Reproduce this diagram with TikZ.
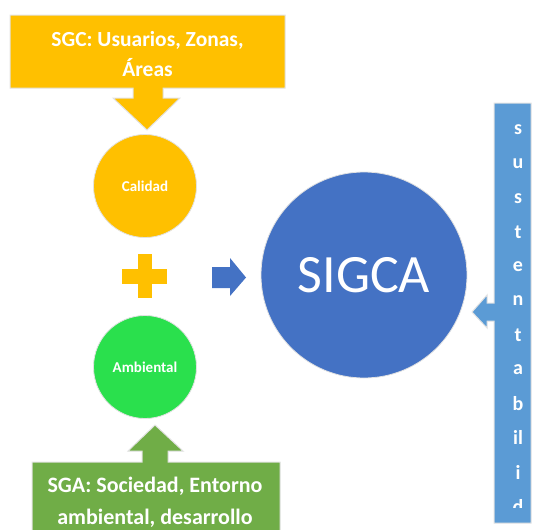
\documentclass[tikz,border=0pt]{standalone}
\usepackage{fontspec}
\setmainfont{Carlito}
\usetikzlibrary{positioning}
\definecolor{CalGold}{HTML}{FFC000}
\definecolor{AmbGreen}{HTML}{70AD47}
\definecolor{CircGreen}{HTML}{2AE04D}
\definecolor{SigBlue}{HTML}{4472C4}
\definecolor{SusBlue}{HTML}{5B9BD5}
\definecolor{EdgeGray}{HTML}{E2E2E2}

\begin{document}
\begin{tikzpicture}[x=1pt,y=-1pt,
	blob/.style={circle,inner sep=0pt,draw=EdgeGray,line width=0.8pt,text=white},
	callout/.style={draw=EdgeGray,line width=1pt}]
		\clip (0,0) rectangle (533,530);
		% top callout
		\filldraw[callout,fill=CalGold] (10,15) -- (285,15) -- (285,88) -- (163,88) -- (163,98) -- (180,98)
			-- (147,130) -- (113,98) -- (133,98) -- (133,88) -- (10,88) -- cycle;
		\node[white,font=\bfseries\fontsize{21.5}{30}\selectfont,align=center] (sgc) at (147.5,54) {SGC: Usuarios, Zonas,\\Áreas};
		% the two systems
		\node[blob,fill=CalGold,minimum size=103pt,font=\bfseries\fontsize{15}{16}\selectfont] (calidad) at (145,186) {Calidad};
		\node[blob,fill=CircGreen,minimum size=103pt,font=\bfseries\fontsize{15}{16}\selectfont] (ambiental) at (145,367) {Ambiental};
		\fill[CalGold] (138,254) rectangle (152,298);
		\fill[CalGold] (122,269) rectangle (167,284);
		\fill[SigBlue] (212,267) -- (230,267) -- (230,258) -- (246,277.5) -- (230,296) -- (230,288) -- (212,288) -- cycle;
		\node[blob,fill=SigBlue,minimum size=206pt,font=\fontsize{54}{60}\selectfont] (sigca) at (364,275) {SIGCA};
		% bottom callout
		\filldraw[callout,fill=AmbGreen] (32,462) -- (142,462) -- (142,451) -- (128,451) -- (155,425) -- (183,451)
			-- (168,451) -- (168,462) -- (280,462) -- (280,540) -- (32,540) -- cycle;
		\node[white,font=\bfseries\fontsize{22}{32}\selectfont,align=center] (sga) at (155,502) {SGA: Sociedad, Entorno\\ambiental, desarrollo};
		% right callout
		\filldraw[callout,fill=SusBlue] (494,103) -- (531,103) -- (531,523) -- (494,523) -- (494,321) -- (487,321)
			-- (487,328) -- (472,312) -- (487,295) -- (487,303) -- (494,303) -- cycle;
		\begin{scope}
			\clip (494,103) rectangle (531,507);
			\foreach \l [count=\i from 0] in {s,u,s,t,e,n,t,a,b,il,i,d}
				\node[white,font=\bfseries\fontsize{20}{22}\selectfont] (sus\i) at (518,130+34.2*\i) {\l};
		\end{scope}
	\end{tikzpicture}
\end{document}
